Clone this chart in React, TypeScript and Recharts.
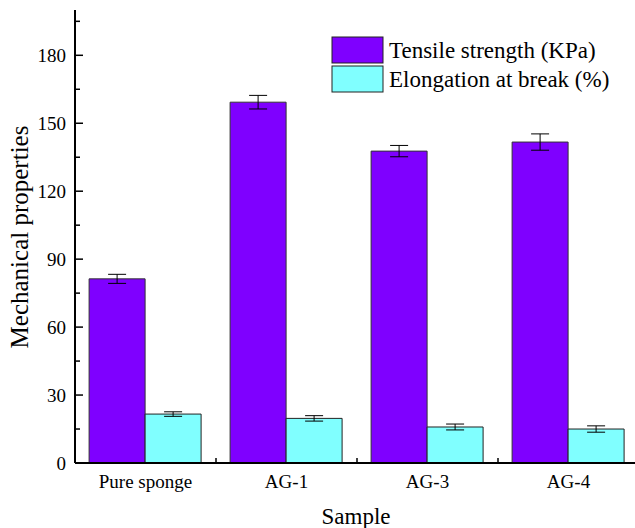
import React from "react"
import { BarChart, Bar, XAxis, YAxis, ErrorBar } from "recharts"

const samples = ["Pure sponge", "AG-1", "AG-3", "AG-4"]
const tensile = [81.3, 159.3, 137.7, 141.7]
const tensileErr = [2.0, 3.0, 2.5, 3.6]
const elongation = [21.6, 19.7, 15.9, 15.0]
const elongationErr = [1.0, 1.2, 1.3, 1.4]
const yTicks = [0, 15, 30, 45, 60, 75, 90, 105, 120, 135, 150, 165, 180, 195]

const series = [
  { key: "tensile", name: "Tensile strength (KPa)", color: "#7F00FF" },
  { key: "elongation", name: "Elongation at break (%)", color: "#80FFFF" },
]

const data = samples.map((name, i) => ({
  name,
  tensile: tensile[i],
  tensileErr: tensileErr[i],
  elongation: elongation[i],
  elongationErr: elongationErr[i],
}))

const font = "Liberation Serif, serif"

const YTick = (props: any) => {
  const { y, payload } = props
  const major = payload.value % 30 === 0
  return (
    <g>
      <line x1={75} x2={major ? 83 : 80} y1={y} y2={y} stroke="#000" strokeWidth={1.5} />
      {major && (
        <text x={66} y={y} dy="0.35em" textAnchor="end" fontFamily={font} fontSize={19} fill="#000">
          {payload.value}
        </text>
      )}
    </g>
  )
}

const XTick = (props: any) => {
  const { x, payload } = props
  const half = 564 / samples.length / 2
  return (
    <g>
      <line x1={x + half} x2={x + half} y1={463} y2={458} stroke="#000" strokeWidth={1.5} />
      <text x={x} y={488} textAnchor="middle" fontFamily={font} fontSize={19} fill="#000">
        {payload.value}
      </text>
    </g>
  )
}

export default function App() {
  return (
    <div style={{ position: "absolute", left: 0, top: 0, width: 635, height: 528, background: "#fff" }}>
      <BarChart
        width={635}
        height={528}
        data={data}
        margin={{ top: 10, right: -4, bottom: 25, left: 15 }}
        barCategoryGap="10%"
        barGap={0}
      >
        <XAxis
          dataKey="name"
          height={40}
          axisLine={{ stroke: "#000", strokeWidth: 2 }}
          tickLine={false}
          tick={<XTick />}
          interval={0}
        />
        <XAxis
          xAxisId="top"
          orientation="top"
          dataKey="name"
          height={0}
          axisLine={{ stroke: "#000", strokeWidth: 2 }}
          tickLine={false}
          tick={false}
        />
        <YAxis
          width={60}
          domain={[0, 200]}
          ticks={yTicks}
          axisLine={{ stroke: "#000", strokeWidth: 2 }}
          tickLine={false}
          tick={<YTick />}
          interval={0}
        />
        <Bar dataKey="tensile" name={series[0].name} fill={series[0].color} stroke="#333" strokeWidth={1} isAnimationActive={false}>
          <ErrorBar dataKey="tensileErr" width={9} stroke="#000" strokeWidth={1} />
        </Bar>
        <Bar dataKey="elongation" name={series[1].name} fill={series[1].color} stroke="#222" strokeWidth={1} isAnimationActive={false}>
          <ErrorBar dataKey="elongationErr" width={9} stroke="#000" strokeWidth={1} />
        </Bar>
      </BarChart>
      <svg width={635} height={528} style={{ position: "absolute", left: 0, top: 0, pointerEvents: "none" }}>
        {series.map((s, i) => (
          <g key={s.key}>
            <rect x={332} y={37 + i * 29} width={51} height={26} fill={s.color} stroke="#222" strokeWidth={1} />
            <text x={389} y={58 + i * 29} fontFamily={font} fontSize={23} fill="#000">
              {s.name}
            </text>
          </g>
        ))}
        <text
          transform="translate(28 237) rotate(-90)"
          textAnchor="middle"
          fontFamily={font}
          fontSize={25}
          fill="#000"
        >
          Mechanical properties
        </text>
        <text x={356} y={524} textAnchor="middle" fontFamily={font} fontSize={23} fill="#000">
          Sample
        </text>
      </svg>
    </div>
  )
}
